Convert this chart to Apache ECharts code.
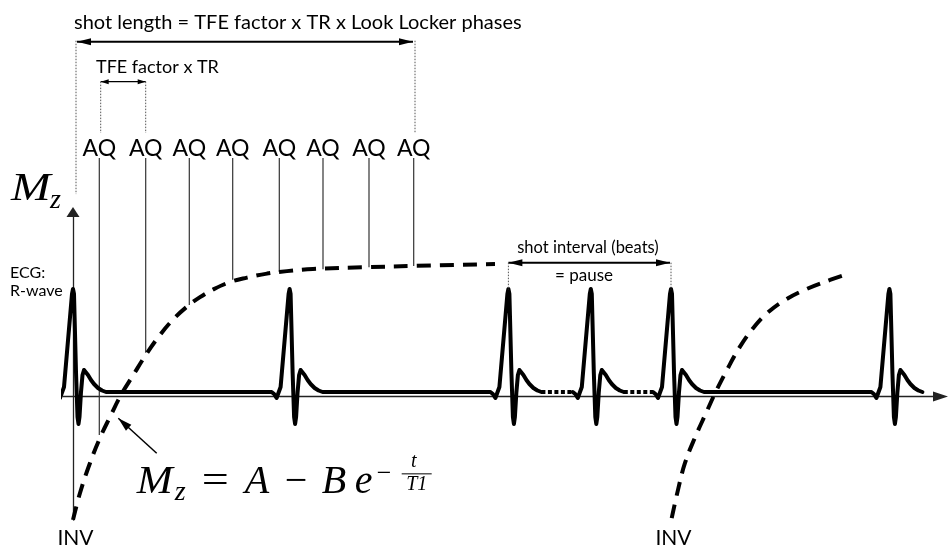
<!DOCTYPE html>
<html><head><meta charset="utf-8">
<script src="https://cdn.jsdelivr.net/npm/echarts@6/dist/echarts.min.js"></script>
<style>html,body{margin:0;padding:0;background:#fff}#c{width:948px;height:548px}</style>
</head><body><div id="c"></div>
<script>
// ---------------- data (time in ms, Mz normalised, ECG in mV) ----------------
const rWaveTimes = [0, 1083, 2177, 2589, 2990, 4082];
const beatGapStyles = ['solid', 'solid', 'dotted', 'dotted', 'solid'];
const ecgLeadInTime = -115;
const beatOffsetsMs = [-90, -77.5, -65, -55, -45, -5, 0, 5, 15, 22.5, 27.5, 32.5, 40, 47.5, 55, 62.5, 75, 90, 105, 125, 145, 165];
const beatValuesMv  = [0, -0.02, -0.06, -0.08, 0.05, 0.98, 1.03, 0.98, 0.2, -0.25, -0.32, -0.25, 0, 0.17, 0.22, 0.21, 0.17, 0.12, 0.08, 0.04, 0.015, 0];

const mzCurve1Times  = [0, 35, 85, 135, 185, 240, 300, 365, 435, 500, 570, 635, 700, 785, 870, 970, 1070, 1200, 1480, 1700, 2110];
const mzCurve1Values = [-0.949, -0.742, -0.511, -0.318, -0.157, 0.012, 0.162, 0.323, 0.474, 0.592, 0.692, 0.765, 0.823, 0.881, 0.915, 0.946, 0.965, 0.982, 0.996, 1.005, 1.02];
const mzCurve2Times  = [2993.5, 3025, 3060, 3110, 3168.5, 3210, 3268.5, 3335, 3401.5, 3468.5, 3560, 3668.5, 3785, 3851.5];
const mzCurve2Values = [-0.936, -0.718, -0.511, -0.315, -0.116, 0.024, 0.201, 0.384, 0.528, 0.639, 0.743, 0.828, 0.897, 0.932];

const aqLabels = ['AQ', 'AQ', 'AQ', 'AQ', 'AQ', 'AQ', 'AQ', 'AQ'];
const aqTimes = [131.5, 363.5, 581.5, 798.5, 1031.5, 1250, 1480, 1703.5];
const aqCurveValues = [-0.295, 0.336, 0.705, 0.898, 0.959, 0.980, 0.995, 1.005];
const invTimes = [0, 2990];
const invLabels = ['INV', 'INV'];

// ---------------- axis ranges ----------------
const X_MIN = -50, X_MAX = 4337.5;
const MZ_MIN = -0.95, MZ_MAX = 1.42;
const ECG_MIN = -1.28, ECG_MAX = 1.80;

// ---------------- annotation anchors (data coordinates) ----------------
const AQ_TOP = 1.835, AQ_LABEL_Y = 1.91;
const SANS = 'Lato', SERIF = 'Liberation Serif';

// ---------------- build ECG segments ----------------
function beatPoints(r) { return beatOffsetsMs.map((o, i) => [r + o, beatValuesMv[i]]); }
const ecgSolid = [], ecgDotted = [];
let cur = [[ecgLeadInTime, 0]].concat(beatPoints(rWaveTimes[0]));
for (let i = 1; i < rWaveTimes.length; i++) {
  const nxt = beatPoints(rWaveTimes[i]);
  if (beatGapStyles[i - 1] === 'solid') cur = cur.concat(nxt);
  else { ecgSolid.push(cur); ecgDotted.push([cur[cur.length - 1], nxt[0]]); cur = nxt; }
}
ecgSolid.push(cur);

const series = [];
[[mzCurve1Times, mzCurve1Values], [mzCurve2Times, mzCurve2Values]].forEach(([ts, vs]) => {
  series.push({ type: 'line', xAxisIndex: 0, yAxisIndex: 0, data: ts.map((t, i) => [t, vs[i]]),
    smooth: 0.4, showSymbol: false, clip: false, silent: true, z: 3,
    lineStyle: { color: '#000', width: 4, type: [14, 9] } });
});
ecgSolid.forEach(seg => series.push({ type: 'line', yAxisIndex: 1, data: seg, showSymbol: false, clip: false, silent: true, z: 4,
  lineStyle: { color: '#000', width: 4, join: 'round', cap: 'round' } }));
ecgDotted.forEach(seg => series.push({ type: 'line', yAxisIndex: 1, data: seg, showSymbol: false, clip: false, silent: true, z: 4,
  lineStyle: { color: '#000', width: 4, type: [4, 2.5] } }));
aqTimes.forEach((t, i) => series.push({ type: 'line', yAxisIndex: 0, data: [[t, AQ_TOP], [t, aqCurveValues[i]]], showSymbol: false, clip: false, silent: true, z: 2,
  lineStyle: { color: '#333', width: 1.2 } }));

function renderAnnotations(params, api) {
  const P = (t, v) => api.coord([t, v]);
  const ch = [];
  const txt = (p, s, o) => ch.push({ type: 'text', x: p[0] + (o.dx || 0), y: p[1] + (o.dy || 0), scaleX: o.sx || 1, style: {
    text: s, fill: '#000', fontSize: o.fs, fontFamily: o.ff || SANS, fontStyle: o.it ? 'italic' : 'normal',
    align: o.al || 'center', verticalAlign: 'middle' } });
  const line = (a, b, w, dash, col) => ch.push({ type: 'line', shape: { x1: a[0], y1: a[1], x2: b[0], y2: b[1] },
    style: { stroke: col || '#000', lineWidth: w, lineDash: dash || null } });
  const head = (tip, from, len, half) => {
    const dx = tip[0] - from[0], dy = tip[1] - from[1], L = Math.hypot(dx, dy), ux = dx / L, uy = dy / L;
    const bx = tip[0] - ux * len, by = tip[1] - uy * len;
    ch.push({ type: 'polygon', shape: { points: [tip, [bx - uy * half, by + ux * half], [bx + uy * half, by - ux * half]] }, style: { fill: '#000' } });
  };
  const dbl = (a, b, w, len, half) => { line(a, b, w); head(a, b, len, half); head(b, a, len, half); };
  const dot = (a, b) => line(a, b, 1, [1.5, 1.5], '#555');

  // shot length
  txt(P(5, 2.874), 'shot length = TFE factor x TR x Look Locker phases', { fs: 20, al: 'left' });
  dbl(P(20, 2.730), P(1700, 2.730), 2, 14, 3.5);
  dot(P(15, 2.738), P(15, 1.558));
  dot(P(1710, 2.738), P(1710, 2.028));
  // TFE factor x TR
  txt(P(115, 2.535), 'TFE factor x TR', { fs: 18, al: 'left' });
  dbl(P(138.5, 2.423), P(363.5, 2.423), 1.2, 8, 2.5);
  dot(P(138.5, 2.423), P(138.5, 2.028));
  dot(P(363.5, 2.423), P(363.5, 2.028));
  // AQ labels
  aqTimes.forEach((t, i) => txt(P(t, AQ_LABEL_Y), aqLabels[i], { fs: 23 }));
  // axis label Mz
  const mzp = P(-310, 1.489);
  txt(mzp, 'M', { fs: 39, ff: SERIF, it: true, al: 'left', dy: -0.3375 * 39, sx: 1.22 });
  const zp = P(-115, 1.435);
  txt(zp, 'z', { fs: 28, ff: SERIF, it: true, al: 'left', dy: -0.3375 * 28 });
  // ECG label
  txt(P(-315, 0.951), 'ECG:', { fs: 16, al: 'left' });
  txt(P(-315, 0.812), 'R-wave', { fs: 16, al: 'left' });
  // INV
  invTimes.forEach((t, i) => txt(P(t + 12.5, -1.09), invLabels[i], { fs: 21 }));
  // shot interval
  txt(P(2575, 1.142), 'shot interval (beats)', { fs: 16.5 });
  txt(P(2555, 0.935), '= pause', { fs: 17 });
  dbl(P(rWaveTimes[2], 1.030), P(rWaveTimes[4] - 5, 1.030), 2, 14, 3.5);
  dot(P(rWaveTimes[2], 1.030), P(rWaveTimes[2], 0.82));
  dot(P(rWaveTimes[4], 1.030), P(rWaveTimes[4], 0.82));
  // formula
  const f = P(318.5, -0.768);
  const fs = 40, base = f[1] - 0.3375 * fs;
  const put = (s, dx, o) => ch.push({ type: 'text', x: f[0] + dx, y: (o.y != null ? o.y : base), scaleX: o.sx || 1, style: {
    text: s, fill: '#000', fontSize: o.fs || fs, fontFamily: SERIF, fontStyle: o.it ? 'italic' : 'normal', align: o.al || 'left', verticalAlign: 'middle' } });
  put('M', 0, { it: true, sx: 1.08 });
  put('z', 38, { it: true, fs: 28, y: f[1] + 6 - 0.3375 * 28 });
  put('=', 65, { sx: 1.2 });
  put('A', 108, { it: true });
  put('\u2212', 148, {});
  put('B', 185, { it: true });
  put('e', 218, { it: true });
  const axisY = f[1] - 22.5;
  put('\u2212', 240, { fs: 26, y: axisY - 0.3375 * 26 + 9 });
  put('t', 277, { it: true, fs: 20, al: 'center', y: axisY - 12.5 });
  ch.push({ type: 'line', shape: { x1: f[0] + 265, y1: axisY, x2: f[0] + 295, y2: axisY }, style: { stroke: '#000', lineWidth: 1 } });
  put('T1', 280, { it: true, fs: 20, al: 'center', y: axisY + 11 });
  // formula arrow
  const tip = P(226.5, -0.167), tail = P(418.5, -0.436);
  line(tail, tip, 1.5); head(tip, tail, 14, 4);
  return { type: 'group', children: ch };
}
series.push({ type: 'custom', coordinateSystem: 'cartesian2d', xAxisIndex: 0, yAxisIndex: 0, clip: false, silent: true, z: 10,
  data: [[0, 0]], renderItem: renderAnnotations });

const chart = echarts.init(document.getElementById('c'), null, { renderer: 'canvas' });
chart.setOption({
  animation: false,
  backgroundColor: '#fff',
  grid: { left: 63, right: 7.5, top: 212, bottom: 28 },
  xAxis: { type: 'value', min: X_MIN, max: X_MAX, splitLine: { show: false }, axisTick: { show: false }, axisLabel: { show: false },
    axisLine: { show: true, onZero: true, onZeroAxisIndex: 0, symbol: ['none', 'triangle'], symbolSize: [10, 15], lineStyle: { color: '#222', width: 1.3 } } },
  yAxis: [
    { type: 'value', min: MZ_MIN, max: MZ_MAX, splitLine: { show: false }, axisTick: { show: false }, axisLabel: { show: false },
      axisLine: { show: true, onZero: true, symbol: ['none', 'triangle'], symbolSize: [13, 10], lineStyle: { color: '#222', width: 1.3 } } },
    { type: 'value', min: ECG_MIN, max: ECG_MAX, show: false }
  ],
  series: series
});
</script></body></html>
